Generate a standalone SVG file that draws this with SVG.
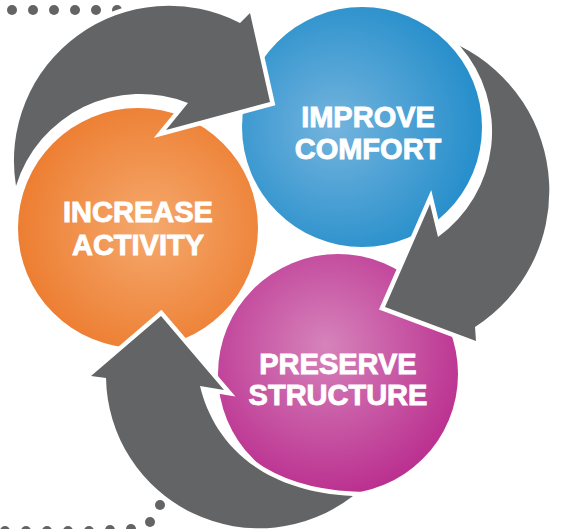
<svg xmlns="http://www.w3.org/2000/svg" width="561" height="529" viewBox="0 0 561 529">
<defs>
<radialGradient id="gBlue" cx="0.42" cy="0.5" r="0.6" fx="0.38" fy="0.5">
<stop offset="0" stop-color="#74b4de"/><stop offset="1" stop-color="#238dca"/>
</radialGradient>
<radialGradient id="gOrange" cx="0.55" cy="0.5" r="0.6" fx="0.55" fy="0.5">
<stop offset="0" stop-color="#f5a96e"/><stop offset="1" stop-color="#ec7a2c"/>
</radialGradient>
<radialGradient id="gMag" cx="0.45" cy="0.4" r="0.6" fx="0.45" fy="0.38">
<stop offset="0" stop-color="#d683bb"/><stop offset="1" stop-color="#bb3190"/>
</radialGradient>
</defs>
<style>
.dot{fill:#636466}
.arrow{fill:#636466;stroke:#ffffff;stroke-width:9;stroke-linejoin:miter;stroke-miterlimit:10;paint-order:stroke}
.lbl{font-family:"Liberation Sans",Arial,sans-serif;font-weight:bold;font-size:29px;fill:#ffffff;stroke:#ffffff;stroke-width:0.9;text-anchor:middle}
</style>
<rect width="561" height="529" fill="#ffffff"/>
<g id="dots">
<circle class="dot" cx="12" cy="10" r="5"/>
<circle class="dot" cx="33" cy="10" r="5"/>
<circle class="dot" cx="54" cy="10" r="5"/>
<circle class="dot" cx="75" cy="10" r="5"/>
<circle class="dot" cx="96" cy="10" r="5"/>
<circle class="dot" cx="117" cy="10" r="5"/>
<circle class="dot" cx="138" cy="10" r="5"/>
<circle class="dot" cx="5" cy="531" r="5"/>
<circle class="dot" cx="26" cy="531" r="5"/>
<circle class="dot" cx="47" cy="531" r="5"/>
<circle class="dot" cx="68" cy="531" r="5"/>
<circle class="dot" cx="89" cy="531" r="5"/>
<circle class="dot" cx="110" cy="530" r="5"/>
<circle class="dot" cx="131" cy="529" r="5"/>
<circle class="dot" cx="150" cy="522" r="5"/>
<circle class="dot" cx="160" cy="505" r="5"/>
</g>
<g id="node-improve-comfort">
<circle cx="362" cy="127" r="120" fill="url(#gBlue)"/>
<text class="lbl" x="368" y="127">IMPROVE</text>
<text class="lbl" x="368" y="159">COMFORT</text>
</g>
<g id="node-increase-activity">
<circle cx="138" cy="228" r="120" fill="url(#gOrange)"/>
<text class="lbl" x="138" y="222">INCREASE</text>
<text class="lbl" x="138" y="255">ACTIVITY</text>
</g>
<g id="node-preserve-structure">
<circle cx="338" cy="374" r="120" fill="url(#gMag)"/>
<text class="lbl" x="338" y="374">PRESERVE</text>
<text class="lbl" x="338" y="405">STRUCTURE</text>
</g>
<g id="connectors">
<path class="arrow" d="M 16,186 A 155 155 0 0 1 240,23 L 250,13 L 270,102 L 166,130 L 188,103 A 130 130 0 0 0 16,186 Z"/>
<path class="arrow" d="M 460,46 A 162 162 0 0 1 475,327 L 476,341 L 385,307 L 430,204 L 438,237 A 130 130 0 0 0 460,46 Z"/>
<path class="arrow" d="M 353,496 A 153 153 0 0 1 106,378 L 91,376 L 161,316 L 224,390 L 200,386 C 212,436 253,491 353,496 Z"/>
</g>
</svg>
